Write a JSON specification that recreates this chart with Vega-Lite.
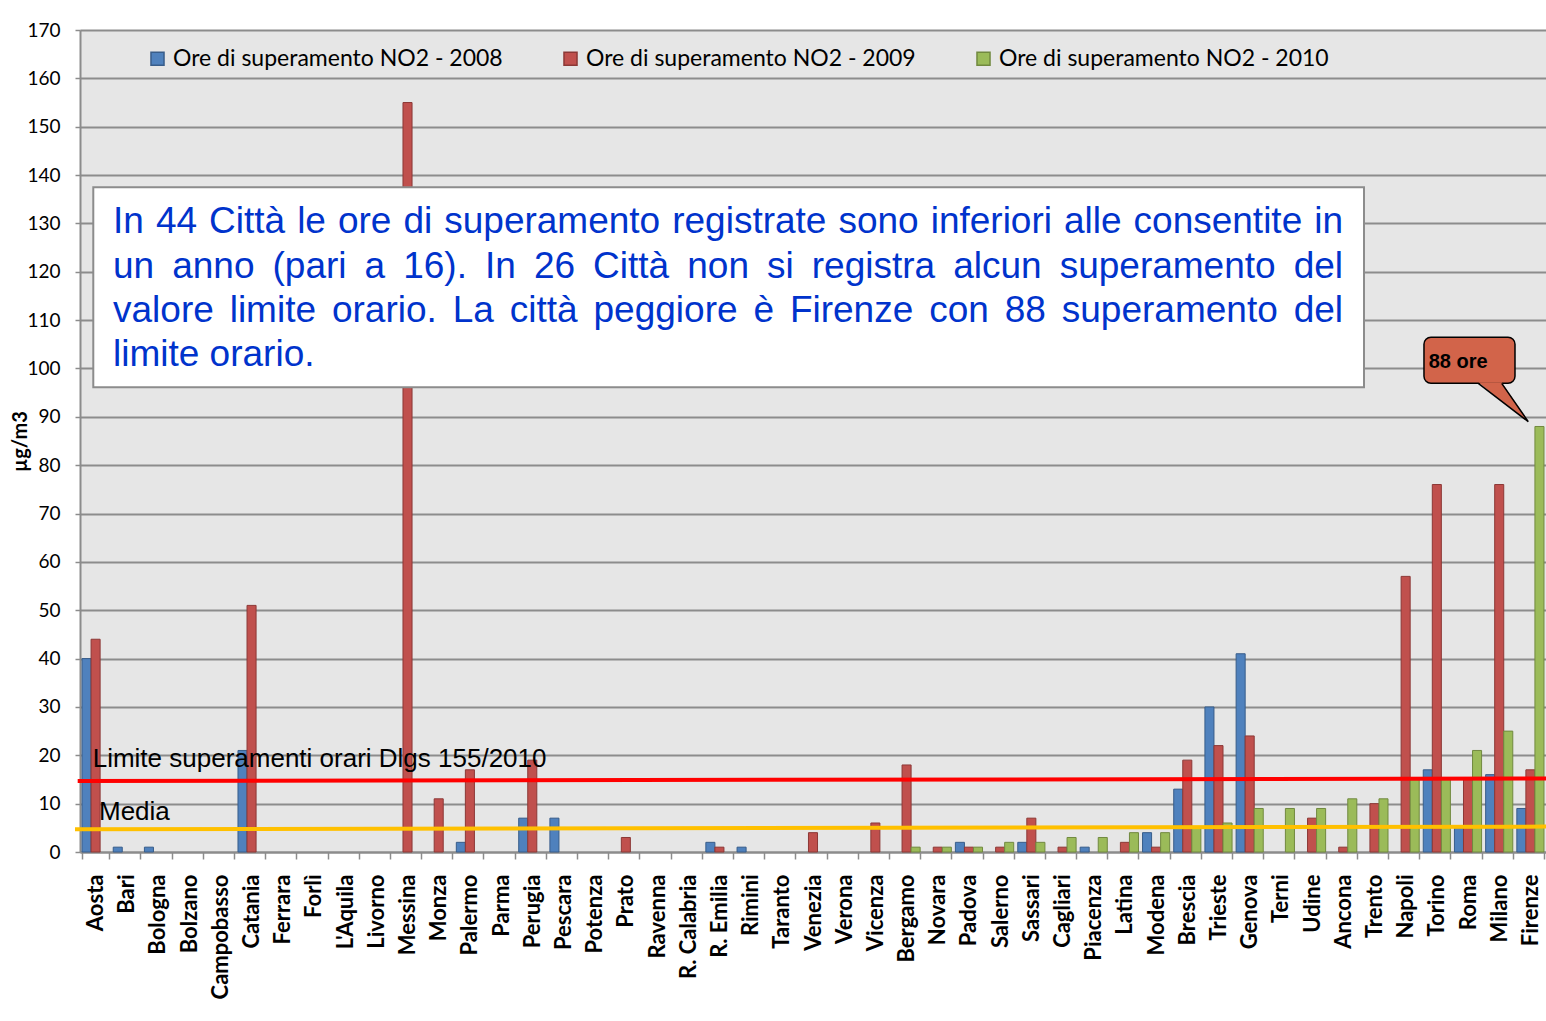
{
  "$schema": "https://vega.github.io/schema/vega-lite/v6.json",
  "width": 1466,
  "height": 822,
  "autosize": "none",
  "padding": {"left": 80, "top": 30, "right": 0, "bottom": 169},
  "background": "white",
  "config": {"view": {"fill": "#e6e6e6", "stroke": null}, "font": "Lato"},
  "datasets": {
    "bars": [
      {"city": "Aosta", "series": "Ore di superamento NO2 - 2008", "v": 40},
      {"city": "Aosta", "series": "Ore di superamento NO2 - 2009", "v": 44},
      {"city": "Bari", "series": "Ore di superamento NO2 - 2008", "v": 1},
      {"city": "Bologna", "series": "Ore di superamento NO2 - 2008", "v": 1},
      {"city": "Catania", "series": "Ore di superamento NO2 - 2008", "v": 21},
      {"city": "Catania", "series": "Ore di superamento NO2 - 2009", "v": 51},
      {"city": "Messina", "series": "Ore di superamento NO2 - 2009", "v": 155},
      {"city": "Monza", "series": "Ore di superamento NO2 - 2009", "v": 11},
      {"city": "Palermo", "series": "Ore di superamento NO2 - 2008", "v": 2},
      {"city": "Palermo", "series": "Ore di superamento NO2 - 2009", "v": 17},
      {"city": "Perugia", "series": "Ore di superamento NO2 - 2008", "v": 7},
      {"city": "Perugia", "series": "Ore di superamento NO2 - 2009", "v": 19},
      {"city": "Pescara", "series": "Ore di superamento NO2 - 2008", "v": 7},
      {"city": "Prato", "series": "Ore di superamento NO2 - 2009", "v": 3},
      {"city": "R. Emilia", "series": "Ore di superamento NO2 - 2008", "v": 2},
      {"city": "R. Emilia", "series": "Ore di superamento NO2 - 2009", "v": 1},
      {"city": "Rimini", "series": "Ore di superamento NO2 - 2008", "v": 1},
      {"city": "Venezia", "series": "Ore di superamento NO2 - 2009", "v": 4},
      {"city": "Vicenza", "series": "Ore di superamento NO2 - 2009", "v": 6},
      {"city": "Bergamo", "series": "Ore di superamento NO2 - 2009", "v": 18},
      {"city": "Bergamo", "series": "Ore di superamento NO2 - 2010", "v": 1},
      {"city": "Novara", "series": "Ore di superamento NO2 - 2009", "v": 1},
      {"city": "Novara", "series": "Ore di superamento NO2 - 2010", "v": 1},
      {"city": "Padova", "series": "Ore di superamento NO2 - 2008", "v": 2},
      {"city": "Padova", "series": "Ore di superamento NO2 - 2009", "v": 1},
      {"city": "Padova", "series": "Ore di superamento NO2 - 2010", "v": 1},
      {"city": "Salerno", "series": "Ore di superamento NO2 - 2009", "v": 1},
      {"city": "Salerno", "series": "Ore di superamento NO2 - 2010", "v": 2},
      {"city": "Sassari", "series": "Ore di superamento NO2 - 2008", "v": 2},
      {"city": "Sassari", "series": "Ore di superamento NO2 - 2009", "v": 7},
      {"city": "Sassari", "series": "Ore di superamento NO2 - 2010", "v": 2},
      {"city": "Cagliari", "series": "Ore di superamento NO2 - 2009", "v": 1},
      {"city": "Cagliari", "series": "Ore di superamento NO2 - 2010", "v": 3},
      {"city": "Piacenza", "series": "Ore di superamento NO2 - 2008", "v": 1},
      {"city": "Piacenza", "series": "Ore di superamento NO2 - 2010", "v": 3},
      {"city": "Latina", "series": "Ore di superamento NO2 - 2009", "v": 2},
      {"city": "Latina", "series": "Ore di superamento NO2 - 2010", "v": 4},
      {"city": "Modena", "series": "Ore di superamento NO2 - 2008", "v": 4},
      {"city": "Modena", "series": "Ore di superamento NO2 - 2009", "v": 1},
      {"city": "Modena", "series": "Ore di superamento NO2 - 2010", "v": 4},
      {"city": "Brescia", "series": "Ore di superamento NO2 - 2008", "v": 13},
      {"city": "Brescia", "series": "Ore di superamento NO2 - 2009", "v": 19},
      {"city": "Brescia", "series": "Ore di superamento NO2 - 2010", "v": 5},
      {"city": "Trieste", "series": "Ore di superamento NO2 - 2008", "v": 30},
      {"city": "Trieste", "series": "Ore di superamento NO2 - 2009", "v": 22},
      {"city": "Trieste", "series": "Ore di superamento NO2 - 2010", "v": 6},
      {"city": "Genova", "series": "Ore di superamento NO2 - 2008", "v": 41},
      {"city": "Genova", "series": "Ore di superamento NO2 - 2009", "v": 24},
      {"city": "Genova", "series": "Ore di superamento NO2 - 2010", "v": 9},
      {"city": "Terni", "series": "Ore di superamento NO2 - 2010", "v": 9},
      {"city": "Udine", "series": "Ore di superamento NO2 - 2009", "v": 7},
      {"city": "Udine", "series": "Ore di superamento NO2 - 2010", "v": 9},
      {"city": "Ancona", "series": "Ore di superamento NO2 - 2009", "v": 1},
      {"city": "Ancona", "series": "Ore di superamento NO2 - 2010", "v": 11},
      {"city": "Trento", "series": "Ore di superamento NO2 - 2009", "v": 10},
      {"city": "Trento", "series": "Ore di superamento NO2 - 2010", "v": 11},
      {"city": "Napoli", "series": "Ore di superamento NO2 - 2009", "v": 57},
      {"city": "Napoli", "series": "Ore di superamento NO2 - 2010", "v": 15},
      {"city": "Torino", "series": "Ore di superamento NO2 - 2008", "v": 17},
      {"city": "Torino", "series": "Ore di superamento NO2 - 2009", "v": 76},
      {"city": "Torino", "series": "Ore di superamento NO2 - 2010", "v": 15},
      {"city": "Roma", "series": "Ore di superamento NO2 - 2008", "v": 5},
      {"city": "Roma", "series": "Ore di superamento NO2 - 2009", "v": 15},
      {"city": "Roma", "series": "Ore di superamento NO2 - 2010", "v": 21},
      {"city": "Milano", "series": "Ore di superamento NO2 - 2008", "v": 16},
      {"city": "Milano", "series": "Ore di superamento NO2 - 2009", "v": 76},
      {"city": "Milano", "series": "Ore di superamento NO2 - 2010", "v": 25},
      {"city": "Firenze", "series": "Ore di superamento NO2 - 2008", "v": 9},
      {"city": "Firenze", "series": "Ore di superamento NO2 - 2009", "v": 17},
      {"city": "Firenze", "series": "Ore di superamento NO2 - 2010", "v": 88}
    ],
    "words": [
      {"t": "In", "x": 1.0580, "y": 127.95},
      {"t": "44", "x": 2.4327, "y": 127.95},
      {"t": "Città", "x": 4.1371, "y": 127.95},
      {"t": "le", "x": 6.9613, "y": 127.95},
      {"t": "ore", "x": 8.2696, "y": 127.95},
      {"t": "di", "x": 10.3690, "y": 127.95},
      {"t": "superamento", "x": 11.6772, "y": 127.95},
      {"t": "registrate", "x": 18.9854, "y": 127.95},
      {"t": "sono", "x": 24.3149, "y": 127.95},
      {"t": "inferiori", "x": 27.2721, "y": 127.95},
      {"t": "alle", "x": 31.5458, "y": 127.95},
      {"t": "consentite", "x": 33.7769, "y": 127.95},
      {"t": "in", "x": 39.5690, "y": 127.95},
      {"t": "un", "x": 1.0580, "y": 118.81},
      {"t": "anno", "x": 2.9558, "y": 118.81},
      {"t": "(pari", "x": 6.1727, "y": 118.81},
      {"t": "a", "x": 9.1238, "y": 118.81},
      {"t": "16).", "x": 10.3620, "y": 118.81},
      {"t": "In", "x": 12.9846, "y": 118.81},
      {"t": "26", "x": 14.5526, "y": 118.81},
      {"t": "Città", "x": 16.4505, "y": 118.81},
      {"t": "non", "x": 19.4680, "y": 118.81},
      {"t": "si", "x": 22.0254, "y": 118.81},
      {"t": "registra", "x": 23.4605, "y": 118.81},
      {"t": "alcun", "x": 27.9941, "y": 118.81},
      {"t": "superamento", "x": 31.4079, "y": 118.81},
      {"t": "del", "x": 38.9094, "y": 118.81},
      {"t": "valore", "x": 1.0580, "y": 109.67},
      {"t": "limite", "x": 4.7984, "y": 109.67},
      {"t": "orario.", "x": 8.0761, "y": 109.67},
      {"t": "La", "x": 11.9482, "y": 109.67},
      {"t": "città", "x": 13.7775, "y": 109.67},
      {"t": "peggiore", "x": 16.4634, "y": 109.67},
      {"t": "è", "x": 21.5893, "y": 109.67},
      {"t": "Firenze", "x": 22.7591, "y": 109.67},
      {"t": "con", "x": 27.2243, "y": 109.67},
      {"t": "88", "x": 29.6467, "y": 109.67},
      {"t": "superamento", "x": 31.4761, "y": 109.67},
      {"t": "del", "x": 38.9092, "y": 109.67},
      {"t": "limite orario.", "x": 1.0580, "y": 100.53}
    ]
  },
  "layer": [
    {
      "data": {"name": "bars"},
      "mark": {"type": "bar", "strokeWidth": 1},
      "encoding": {
        "x": {
          "field": "city", "type": "nominal",
          "scale": {
            "domain": ["Aosta","Bari","Bologna","Bolzano","Campobasso","Catania","Ferrara","Forlì","L'Aquila","Livorno","Messina","Monza","Palermo","Parma","Perugia","Pescara","Potenza","Prato","Ravenna","R. Calabria","R. Emilia","Rimini","Taranto","Venezia","Verona","Vicenza","Bergamo","Novara","Padova","Salerno","Sassari","Cagliari","Piacenza","Latina","Modena","Brescia","Trieste","Genova","Terni","Udine","Ancona","Trento","Napoli","Torino","Roma","Milano","Firenze"],
            "paddingInner": 0.13, "paddingOuter": 0.065
          },
          "axis": {
            "title": null, "labelAngle": -90, "labelFont": "Lato", "labelFontWeight": "bold",
            "labelFontSize": 22, "labelColor": "black", "labelPadding": 15, "labelLimit": 300,
            "tickSize": 7, "tickColor": "#8c8c8c", "tickWidth": 1.5, "tickBand": "extent",
            "domainColor": "#8c8c8c", "domainWidth": 2, "grid": false
          }
        },
        "xOffset": {
          "field": "series", "type": "nominal",
          "scale": {"domain": ["Ore di superamento NO2 - 2008", "Ore di superamento NO2 - 2009", "Ore di superamento NO2 - 2010"], "paddingInner": 0, "paddingOuter": 0}
        },
        "y": {
          "field": "v", "type": "quantitative", "title": "µg/m3",
          "scale": {"domain": [0, 170], "nice": false},
          "axis": {
            "title": "µg/m3", "values": [0,10,20,30,40,50,60,70,80,90,100,110,120,130,140,150,160,170],
            "grid": true, "gridColor": "#8c8c8c", "gridWidth": 2,
            "domainColor": "#8c8c8c", "domainWidth": 2,
            "tickColor": "#8c8c8c", "tickSize": 5, "tickWidth": 1.5,
            "labelPadding": 15, "labelFont": "Lato", "labelFontSize": 19, "labelColor": "black",
            "titleFont": "Lato", "titleFontWeight": "bold", "titleFontSize": 20, "titleColor": "black", "titlePadding": -4
          }
        },
        "fill": {
          "field": "series", "type": "nominal",
          "scale": {"domain": ["Ore di superamento NO2 - 2008", "Ore di superamento NO2 - 2009", "Ore di superamento NO2 - 2010"], "range": ["#4f81bd", "#c0504d", "#9bbb59"]},
          "legend": {"orient": "none", "legendX": 66, "legendY": 17, "direction": "horizontal", "title": null, "labelFont": "Lato", "labelFontSize": 23, "labelColor": "black", "labelLimit": 500, "symbolType": "square", "symbolSize": 170, "symbolStrokeWidth": 1.5, "columnPadding": 56, "labelOffset": 4}
        },
        "stroke": {
          "field": "series", "type": "nominal",
          "scale": {"domain": ["Ore di superamento NO2 - 2008", "Ore di superamento NO2 - 2009", "Ore di superamento NO2 - 2010"], "range": ["#385d8a", "#8c3836", "#71893f"]},
          "legend": {"orient": "none", "legendX": 66, "legendY": 17, "direction": "horizontal", "title": null, "labelFont": "Lato", "labelFontSize": 23, "labelColor": "black", "labelLimit": 500, "symbolType": "square", "symbolSize": 170, "symbolStrokeWidth": 1.5, "columnPadding": 56, "labelOffset": 4}
        }
      }
    },
    {
      "layer": [
        {
          "data": {"values": [{"x1": 0.426, "x2": 41.165, "y1": 96.10, "y2": 137.47}]},
          "mark": {"type": "rect", "fill": "white", "stroke": "#8c8c8c", "strokeWidth": 2},
          "encoding": {
            "x": {"field": "x1", "type": "quantitative", "scale": {"domain": [0, 47], "nice": false, "zero": false}, "axis": null},
            "x2": {"field": "x2"},
            "y": {"field": "y1", "type": "quantitative", "title": "µg/m3"},
            "y2": {"field": "y2"}
          }
        },
        {
          "data": {"name": "words"},
          "mark": {"type": "text", "align": "left", "baseline": "alphabetic", "font": "Liberation Sans", "fontSize": 37, "color": "#0033cc"},
          "encoding": {
            "x": {"field": "x", "type": "quantitative", "scale": {"domain": [0, 47], "nice": false, "zero": false}, "axis": null},
            "y": {"field": "y", "type": "quantitative", "title": "µg/m3"},
            "text": {"field": "t"}
          }
        },
        {
          "data": {"values": [
            {"name": "Limite", "x1": -0.074, "x2": 47, "y1": 14.68, "y2": 15.2},
            {"name": "Media", "x1": -0.16, "x2": 47, "y1": 4.69, "y2": 5.25}
          ]},
          "mark": {"type": "rule", "strokeWidth": 4},
          "encoding": {
            "x": {"field": "x1", "type": "quantitative", "scale": {"domain": [0, 47], "nice": false, "zero": false}, "axis": null},
            "x2": {"field": "x2"},
            "y": {"field": "y1", "type": "quantitative", "title": "µg/m3"},
            "y2": {"field": "y2"},
            "color": {"field": "name", "type": "nominal", "scale": {"domain": ["Limite", "Media"], "range": ["#ff0000", "#ffc000"]}, "legend": null}
          }
        },
        {
          "data": {"values": [
            {"t": "Limite superamenti orari Dlgs 155/2010", "x": 0.407, "y": 17.58},
            {"t": "Media", "x": 0.609, "y": 6.62}
          ]},
          "mark": {"type": "text", "align": "left", "baseline": "alphabetic", "font": "Liberation Sans", "fontSize": 26, "color": "black"},
          "encoding": {
            "x": {"field": "x", "type": "quantitative", "scale": {"domain": [0, 47], "nice": false, "zero": false}, "axis": null},
            "y": {"field": "y", "type": "quantitative", "title": "µg/m3"},
            "text": {"field": "t"}
          }
        },
        {
          "data": {"values": [{"x1": 43.088, "x2": 46.006, "y1": 96.93, "y2": 106.45}]},
          "mark": {"type": "rect", "fill": "#d2644a", "stroke": "black", "strokeWidth": 1.5, "cornerRadius": 7},
          "encoding": {
            "x": {"field": "x1", "type": "quantitative", "scale": {"domain": [0, 47], "nice": false, "zero": false}, "axis": null},
            "x2": {"field": "x2"},
            "y": {"field": "y1", "type": "quantitative", "title": "µg/m3"},
            "y2": {"field": "y2"}
          }
        },
        {
          "data": {"values": [
            {"x": 44.829, "y": 97.15, "y2": 97.15},
            {"x": 45.580, "y": 97.15, "y2": 93.22},
            {"x": 46.432, "y": 88.99, "y2": 88.99}
          ]},
          "mark": {"type": "area", "fill": "#d2644a", "interpolate": "linear"},
          "encoding": {
            "x": {"field": "x", "type": "quantitative", "scale": {"domain": [0, 47], "nice": false, "zero": false}, "axis": null},
            "y": {"field": "y", "type": "quantitative", "title": "µg/m3"},
            "y2": {"field": "y2"}
          }
        },
        {
          "data": {"values": [
            {"o": 1, "x": 44.829, "y": 96.93},
            {"o": 2, "x": 46.432, "y": 88.99},
            {"o": 3, "x": 45.580, "y": 96.93}
          ]},
          "mark": {"type": "line", "color": "black", "strokeWidth": 1.5},
          "encoding": {
            "x": {"field": "x", "type": "quantitative", "scale": {"domain": [0, 47], "nice": false, "zero": false}, "axis": null},
            "y": {"field": "y", "type": "quantitative", "title": "µg/m3"},
            "order": {"field": "o", "type": "quantitative"}
          }
        },
        {
          "data": {"values": [{"t": "88 ore", "x": 43.239, "y": 100.16}]},
          "mark": {"type": "text", "align": "left", "baseline": "alphabetic", "font": "Liberation Sans", "fontSize": 20, "fontWeight": "bold", "color": "black"},
          "encoding": {
            "x": {"field": "x", "type": "quantitative", "scale": {"domain": [0, 47], "nice": false, "zero": false}, "axis": null},
            "y": {"field": "y", "type": "quantitative", "title": "µg/m3"},
            "text": {"field": "t"}
          }
        }
      ]
    }
  ],
  "resolve": {"scale": {"x": "independent"}}
}
